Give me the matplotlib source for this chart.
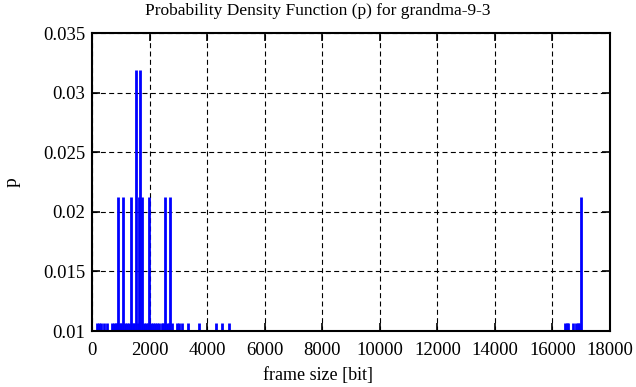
import matplotlib
matplotlib.use("Agg")
import matplotlib.pyplot as plt

plt.rcParams['font.family'] = ['Liberation Serif', 'DejaVu Serif']

# frame sizes [bit] and their probabilities (counts / 94)
sizes_1 = [160, 250, 300, 400, 520, 680, 760, 830, 880, 960, 1020, 1160, 1230,
           1290, 1420, 1470, 1580, 1800, 1880, 1930, 2050, 2120, 2190, 2260, 2330,
           2430, 2480, 2600, 2660, 2790, 2950, 3020, 3130, 3350, 3700, 4300,
           4520, 4770, 16440, 16500, 16550, 16720, 16830, 16880, 16930]
sizes_2 = [914, 1088, 1355, 1630, 1730, 1970, 2537, 2720, 16980]
sizes_3 = [1529, 1678]

p1 = [1 / 94] * len(sizes_1)
p2 = [2 / 94] * len(sizes_2)
p3 = [3 / 94] * len(sizes_3)

fig = plt.figure(figsize=(6.36, 3.87), dpi=100)
ax = fig.add_axes([0.1447, 0.1447, 0.8145, 0.77])

for xs, ps in [(sizes_1, p1), (sizes_2, p2), (sizes_3, p3)]:
    ax.vlines(xs, 0, ps, colors='#0000ff', linewidth=2)

ax.set_xlim(0, 18000)
ax.set_ylim(0.01, 0.035)
ax.set_xticks(range(0, 18001, 2000))
ax.set_yticks([0.01, 0.015, 0.02, 0.025, 0.03, 0.035])
ax.set_yticklabels(["0.01", "0.015", "0.02", "0.025", "0.03", "0.035"])
ax.grid(True, color='black', linestyle=(0, (4.5, 3)), linewidth=0.8)
ax.tick_params(direction='in', top=True, right=True, length=6, width=1.2,
               labelsize=13.5)
ax.tick_params(axis='x', pad=8)
ax.tick_params(axis='y', pad=5)
for s in ax.spines.values():
    s.set_linewidth(1.5)

# title and x label are centred on the figure, not on the axes
ax.set_title("Probability Density Function (p) for grandma-9-3", fontsize=12.5,
             pad=13, x=0.436)
ax.set_xlabel("frame size [bit]", fontsize=13, labelpad=6, x=0.436)
ax.set_ylabel("p", fontsize=14, labelpad=16)

fig.savefig("out.png", dpi=100)
